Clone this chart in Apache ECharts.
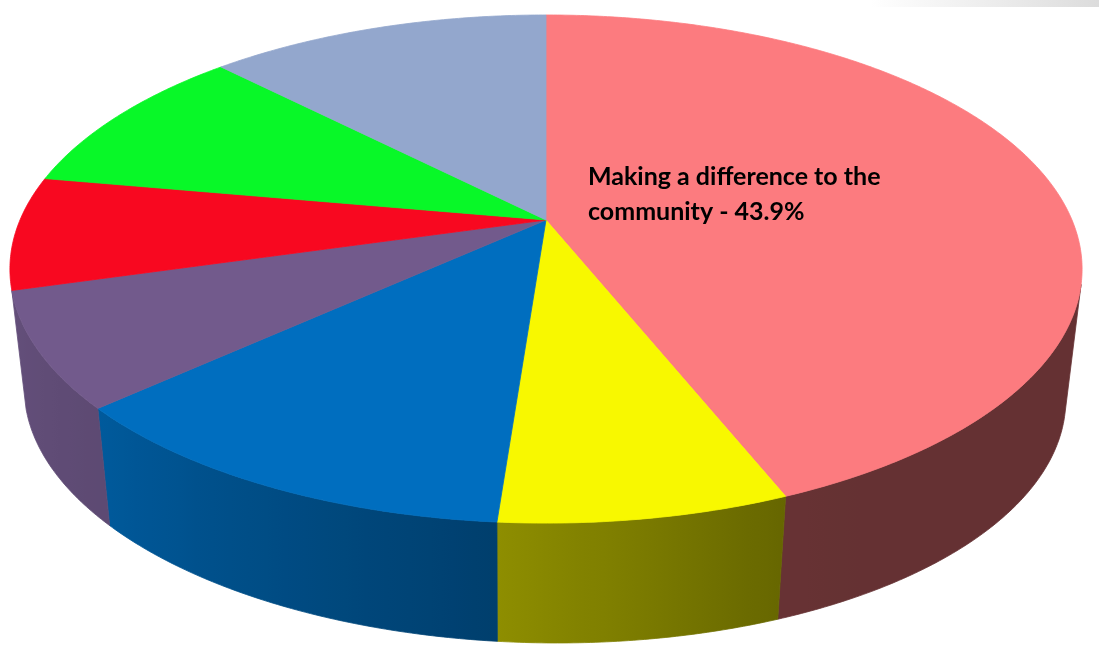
<!DOCTYPE html>
<html>
<head>
<meta charset="utf-8">
<script src="https://cdn.jsdelivr.net/npm/echarts@6/dist/echarts.min.js"></script>
<style>html,body{margin:0;padding:0;background:#fff}#c{width:1099px;height:649px}</style>
</head>
<body>
<div id="c"></div>
<script>
// ---- data ----
const categories = ['Making a difference to the community', 'Category 2', 'Category 3', 'Category 4', 'Category 5', 'Category 6', 'Category 7'];
const values = [43.9, 7.3, 12.1, 7.3, 7.2, 9.8, 12.4];
const sliceColors = ['#FC7B7F', '#F8F800', '#006EBF', '#725A8C', '#F80820', '#08F828', '#93A7CD'];
const labelShown = [true, false, false, false, false, false, false];

// ---- projection of the tilted disc (top face and bottom face) ----
const TOP = {cx: 546, cy: 220, a: 526, b: 244.6, s: 0, k: 0.193};
const BOT = {cx: 545, cy: 345.5, a: 511, b: 240, s: 5.7, k: 0.193};
function proj(P, deg) {
  const t = deg * Math.PI / 180, x = Math.cos(t), z = Math.sin(t), p = 1 / (1 + z * P.k);
  return [P.cx + P.a * x * p, P.cy - P.b * z * p + P.s * x * p];
}
// side shading factor as function of angle
const shadeStops = [[-200, 0.88], [-164, 0.88], [-138, 0.82], [-94, 0.57], [-68, 0.41], [-60, 0.40], [20, 0.40]];
function shade(deg) {
  for (let i = 0; i < shadeStops.length - 1; i++) {
    const [a0, f0] = shadeStops[i], [a1, f1] = shadeStops[i + 1];
    if (deg >= a0 && deg <= a1) return f0 + (f1 - f0) * (deg - a0) / (a1 - a0);
  }
  return 0.4;
}
function mul(hex, f) {
  const n = parseInt(hex.slice(1), 16);
  const r = Math.round(((n >> 16) & 255) * f), g = Math.round(((n >> 8) & 255) * f), b = Math.round((n & 255) * f);
  return 'rgb(' + r + ',' + g + ',' + b + ')';
}
function isVisible(deg) {
  const d = 0.05, t0 = proj(TOP, deg), t1 = proj(TOP, deg + d), b0 = proj(BOT, deg);
  return (t1[0] - t0[0]) * (b0[1] - t0[1]) - (t1[1] - t0[1]) * (b0[0] - t0[0]) > 0;
}
let visLo = null, visHi = null;
for (let d = -180; d <= 0; d += 0.1) {
  if (isVisible(d)) { if (visLo === null) visLo = d; visHi = d; }
}
const total = values.reduce((s, v) => s + v, 0);
function sliceAngles(i) {
  let cum = 0;
  for (let j = 0; j < i; j++) cum += values[j];
  const a0 = 90 - 360 * cum / total;
  const a1 = 90 - 360 * (cum + values[i]) / total;
  return [a1, a0]; // lo, hi
}
function arcPts(P, from, to) {
  const pts = [], n = Math.max(2, Math.ceil(Math.abs(to - from) / 0.5));
  for (let k = 0; k <= n; k++) pts.push(proj(P, from + (to - from) * k / n));
  return pts;
}
function wrap(text, maxLen) {
  const words = text.split(' '), lines = [];
  let cur = '';
  words.forEach(w => {
    if (cur && (cur + ' ' + w).length > maxLen) { lines.push(cur); cur = w; }
    else cur = cur ? cur + ' ' + w : w;
  });
  if (cur) lines.push(cur);
  return lines.join('\n');
}

const chart = echarts.init(document.getElementById('c'), null, {renderer: 'canvas'});
const data = values.map((v, i) => ({value: v, name: categories[i]}));

chart.setOption({
  animation: false,
  backgroundColor: '#ffffff',
  graphic: [{
    type: 'rect', left: 870, top: 0, shape: {width: 229, height: 7}, silent: true,
    style: {fill: {type: 'linear', x: 0, y: 0, x2: 1, y2: 0, colorStops: [{offset: 0, color: '#ffffff'}, {offset: 1, color: '#dcdcdc'}]}}
  }],
  series: [
    {
      type: 'custom', name: 'sides', coordinateSystem: 'none', z: 1, data: data,
      renderItem: function (params, api) {
        const i = params.dataIndex;
        const [lo0, hi0] = sliceAngles(i);
        const lo = Math.max(lo0, visLo), hi = Math.min(hi0, visHi);
        if (visLo === null || hi - lo < 2) return {type: 'group', children: []};
        const top = arcPts(TOP, lo, hi), bot = arcPts(BOT, hi, lo);
        const x0 = top[0][0], x1 = top[top.length - 1][0];
        const stops = [];
        const n = Math.max(2, Math.ceil((hi - lo) / 2));
        for (let k = 0; k <= n; k++) {
          const d = lo + (hi - lo) * k / n;
          const px = proj(TOP, d)[0];
          stops.push({offset: Math.min(1, Math.max(0, (px - x0) / ((x1 - x0) || 1))), color: mul(sliceColors[i], shade(d))});
        }
        const grad = {type: 'linear', x: x0, y: 0, x2: x1, y2: 0, global: true, colorStops: stops};
        return {type: 'polygon', shape: {points: top.concat(bot)}, style: {fill: grad, stroke: grad, lineWidth: 0.8}};
      }
    },
    {
      type: 'custom', name: 'tops', coordinateSystem: 'none', z: 2, data: data,
      renderItem: function (params, api) {
        const i = params.dataIndex;
        const [lo, hi] = sliceAngles(i);
        const pts = [[TOP.cx, TOP.cy]].concat(arcPts(TOP, hi, lo));
        const children = [{type: 'polygon', shape: {points: pts}, style: {fill: sliceColors[i], stroke: sliceColors[i], lineWidth: 0.8}}];
        if (labelShown[i]) {
          children.push({
            type: 'text', z2: 10,
            style: {
              text: wrap(categories[i] + ' - ' + api.value(0).toFixed(1) + '%', 27),
              x: 588, y: 194, align: 'left', verticalAlign: 'middle',
              fill: '#000000', fontSize: 25, fontWeight: 'bold', fontFamily: 'Lato', lineHeight: 35
            }
          });
        }
        return {type: 'group', children: children};
      }
    }
  ]
});
</script>
</body>
</html>
